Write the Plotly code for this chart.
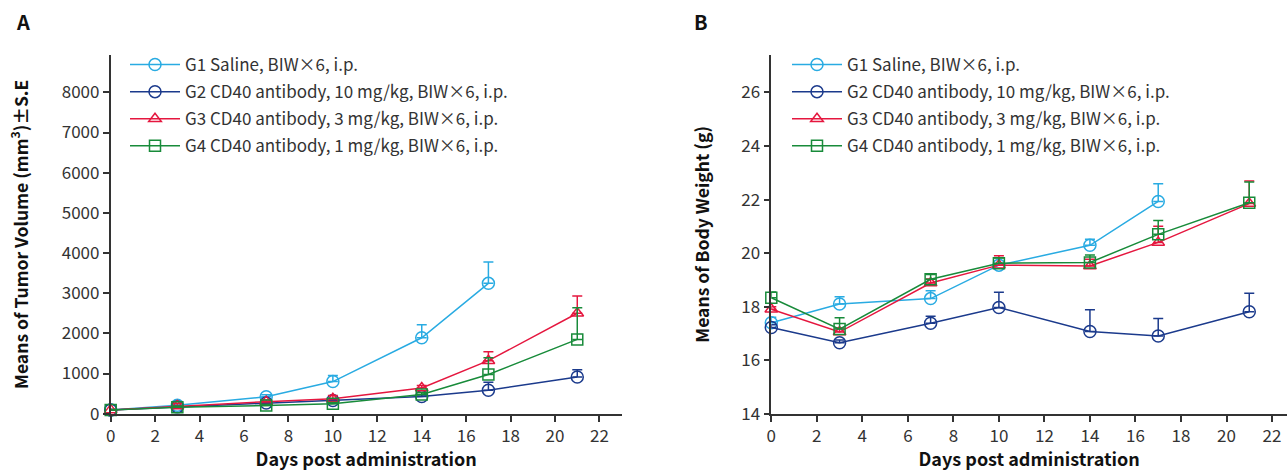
import plotly.graph_objects as go

# ---------------- data ----------------
days_a = [0, 3, 7, 10, 14, 17, 21]
days_g1 = [0, 3, 7, 10, 14, 17]

group_names = [
    "G1 Saline, BIW×6, i.p.",
    "G2 CD40 antibody, 10 mg/kg, BIW×6, i.p.",
    "G3 CD40 antibody, 3 mg/kg, BIW×6, i.p.",
    "G4 CD40 antibody, 1 mg/kg, BIW×6, i.p.",
]

# Tumor volume (mm3) mean and SE (upper)
tv_g1 = [95, 210, 420, 800, 1890, 3245]
tv_g1_se = [10, 25, 50, 150, 325, 530]
tv_g2 = [95, 170, 265, 330, 430, 585, 915]
tv_g2_se = [10, 20, 30, 35, 40, 195, 180]
tv_g3 = [95, 190, 300, 370, 640, 1320, 2500]
tv_g3_se = [10, 70, 40, 80, 60, 225, 430]
tv_g4 = [95, 160, 205, 250, 480, 975, 1850]
tv_g4_se = [10, 30, 25, 30, 50, 420, 790]

# Body weight (g) mean and SE (upper)
bw_g1 = [17.40, 18.10, 18.30, 19.55, 20.29, 21.93]
bw_g1_se = [0.20, 0.27, 0.29, 0.05, 0.23, 0.66]
bw_g2 = [17.22, 16.65, 17.38, 17.97, 17.07, 16.90, 17.81]
bw_g2_se = [0.10, 0.10, 0.26, 0.57, 0.81, 0.66, 0.69]
bw_g3 = [17.90, 17.05, 18.88, 19.55, 19.52, 20.40, 21.85]
bw_g3_se = [0.10, 0.15, 0.15, 0.35, 0.25, 0.60, 0.84]
bw_g4 = [18.33, 17.16, 19.02, 19.62, 19.65, 20.70, 21.88]
bw_g4_se = [0.22, 0.42, 0.18, 0.20, 0.28, 0.52, 0.78]

colors = ["#29ABE2", "#1B3A8C", "#E5173F", "#188B3A"]
symbols = ["circle-open", "circle-open", "triangle-up-open", "square-open"]

TXT = "#333333"
FONT = "Noto Sans CJK SC"

fig = go.Figure()

a_series = [(days_g1, tv_g1, tv_g1_se), (days_a, tv_g2, tv_g2_se),
            (days_a, tv_g3, tv_g3_se), (days_a, tv_g4, tv_g4_se)]
b_series = [(days_g1, bw_g1, bw_g1_se), (days_a, bw_g2, bw_g2_se),
            (days_a, bw_g3, bw_g3_se), (days_a, bw_g4, bw_g4_se)]

for panel, series, xa, ya, leg in [("A", a_series, "x", "y", "legend"),
                                   ("B", b_series, "x2", "y2", "legend2")]:
    for i, (xs, ys, es) in enumerate(series):
        fig.add_trace(go.Scatter(
            x=xs, y=ys, mode="lines+markers", name=group_names[i],
            xaxis=xa, yaxis=ya, legend=leg,
            legendgroup=f"{panel}{i}",
            line=dict(color=colors[i], width=1.5),
            marker=dict(symbol=symbols[i], size=12 if i < 2 else 11,
                        color=colors[i], line=dict(width=1.5, color=colors[i])),
            error_y=dict(type="data", array=es, arrayminus=[0] * len(es),
                         symmetric=False, color=colors[i], thickness=1.5, width=5),
            cliponaxis=False,
        ))

axis_common = dict(
    showline=True, linecolor="#333333", linewidth=1.6,
    ticks="outside", ticklen=6, tickwidth=1.6, tickcolor="#333333",
    showgrid=False, zeroline=False,
    tickfont=dict(family=FONT, size=17, color=TXT),
)
ytitle_font = dict(family=FONT, size=17.5, color="#111")
xtitle_font = dict(family=FONT, size=18, color="#111")

W, H = 1287, 471
ydom = [(H - 413.7) / H, (H - 55) / H]

leg_common = dict(xanchor="left", yanchor="top", bgcolor="rgba(0,0,0,0)",
                  font=dict(family=FONT, size=17, color=TXT),
                  traceorder="grouped", tracegroupgap=2, itemwidth=50)

fig.update_layout(
    width=W, height=H,
    margin=dict(l=0, r=0, t=0, b=0),
    paper_bgcolor="white", plot_bgcolor="white",
    font=dict(family=FONT, color=TXT),
    xaxis=dict(domain=[110.7 / W, 621.7 / W], range=[0, 23], tickvals=list(range(0, 23, 2)),
               title=dict(text="<b>Days post administration</b>", font=xtitle_font, standoff=13),
               anchor="y", automargin=False, **axis_common),
    yaxis=dict(domain=ydom, range=[0, 8930], tickvals=list(range(0, 8001, 1000)),
               title=dict(text="<b>Means of Tumor Volume (mm<sup>3</sup>)±S.E</b>",
                          font=ytitle_font, standoff=29),
               anchor="x", automargin=False, **axis_common),
    xaxis2=dict(domain=[771.3 / W, 1.0], range=[0, (W - 771.3) / 22.76], tickvals=list(range(0, 23, 2)),
                title=dict(text="<b>Days post administration</b>", font=xtitle_font, standoff=13),
                anchor="y2", automargin=False, **axis_common),
    yaxis2=dict(domain=ydom, range=[14, 27.4], tickvals=list(range(14, 27, 2)),
                title=dict(text="<b>Means of Body Weight (g)</b>", font=ytitle_font, standoff=27),
                anchor="x2", automargin=False, **axis_common),
    legend=dict(x=125 / W, y=(H - 47) / H, **leg_common),
    legend2=dict(x=787 / W, y=(H - 47) / H, **leg_common),
    annotations=[
        dict(text="<b>A</b>", x=14 / W, y=(H - 22) / H, xref="paper", yref="paper",
             xanchor="left", yanchor="middle", showarrow=False,
             font=dict(family=FONT, size=20, color="#111")),
        dict(text="<b>B</b>", x=692 / W, y=(H - 22) / H, xref="paper", yref="paper",
             xanchor="left", yanchor="middle", showarrow=False,
             font=dict(family=FONT, size=20, color="#111")),
    ],
)

fig.write_html("out.html", config={"displayModeBar": False},
               post_script="document.body.style.margin='0';document.body.style.overflow='hidden';")
